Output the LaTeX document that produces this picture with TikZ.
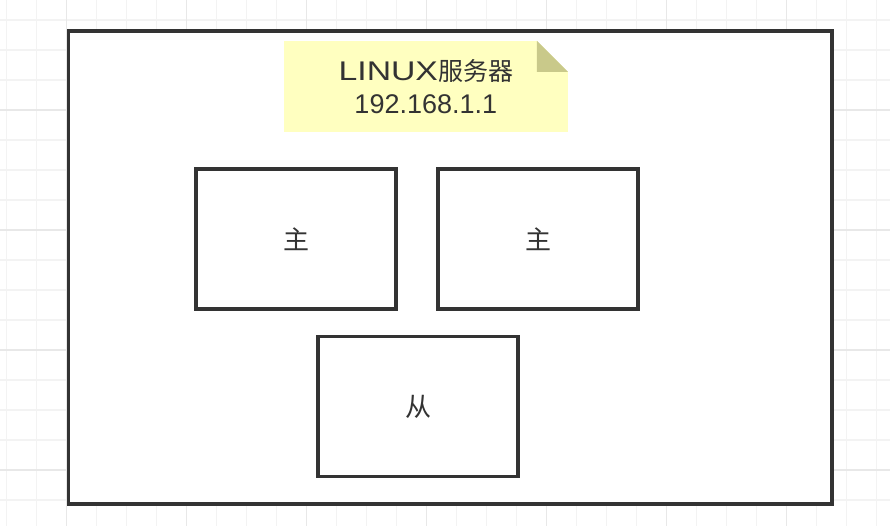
\documentclass[tikz,border=0pt]{standalone}
\usepackage{fontspec}
\setmainfont{Liberation Sans}
\newfontfamily\cjk{Noto Sans CJK SC}
\newfontfamily\widefont[FakeStretch=1.25]{Liberation Sans}
\usetikzlibrary{calc, positioning}

\definecolor{ink}{HTML}{333333}
\definecolor{notebg}{HTML}{FFFFC0}
\definecolor{notefold}{HTML}{C9C98A}
\definecolor{gridminor}{HTML}{F3F3F3}
\definecolor{gridmajor}{HTML}{E8E8E8}

\begin{document}
\begin{tikzpicture}[x=1pt, y=-1pt, node distance=42pt]
	\tikzstyle{frame} = [draw=ink, line width=3.3pt, fill=white, inner sep=0pt, outer sep=0pt]
	\tikzstyle{role} = [frame, minimum width=200pt, minimum height=140pt, text=ink, font=\cjk\fontsize{26}{30}\selectfont]
	\tikzstyle{note} = [fill=notebg, inner sep=0pt, minimum width=283.7pt, minimum height=91.3pt, align=center, text=ink, font=\fontsize{27}{33.4}\selectfont]

	\useasboundingbox (0,0) rectangle (890,526);

	% background grid
	\foreach \x in {6.7,36.7,...,890}
		\draw[gridminor, line width=1.5pt] (\x,0) -- (\x,526);
	\foreach \y in {20,50,...,526}
		\draw[gridminor, line width=1.5pt] (0,\y) -- (890,\y);
	\foreach \x in {66.7,186.7,...,890}
		\draw[gridmajor, line width=1.5pt] (\x,0) -- (\x,526);
	\foreach \y in {110,230,...,526}
		\draw[gridmajor, line width=1.5pt] (0,\y) -- (890,\y);

	\node[frame, minimum width=763.5pt, minimum height=473pt] (server) at (450.25,267.5) {};

	\node[note] (addr) at (425.8,86.7) {{\widefont LINUX}{\cjk\fontsize{25}{33.4}\selectfont 服务器}\\192.168.1.1};
	\fill[white] ($(addr.north east)+(-31,0)$) -- (addr.north east) -- ($(addr.north east)+(0,31)$) -- cycle;
	\fill[notefold] ($(addr.north east)+(-31,0)$) -- ($(addr.north east)+(-31,31)$) -- ($(addr.north east)+(0,31)$) -- cycle;

	\node[role] (master1) at (296,239) {主};
	\node[role, right=of master1] (master2) {主};
	\node[role] (slave) at (418,406.7) {从};
\end{tikzpicture}
\end{document}
